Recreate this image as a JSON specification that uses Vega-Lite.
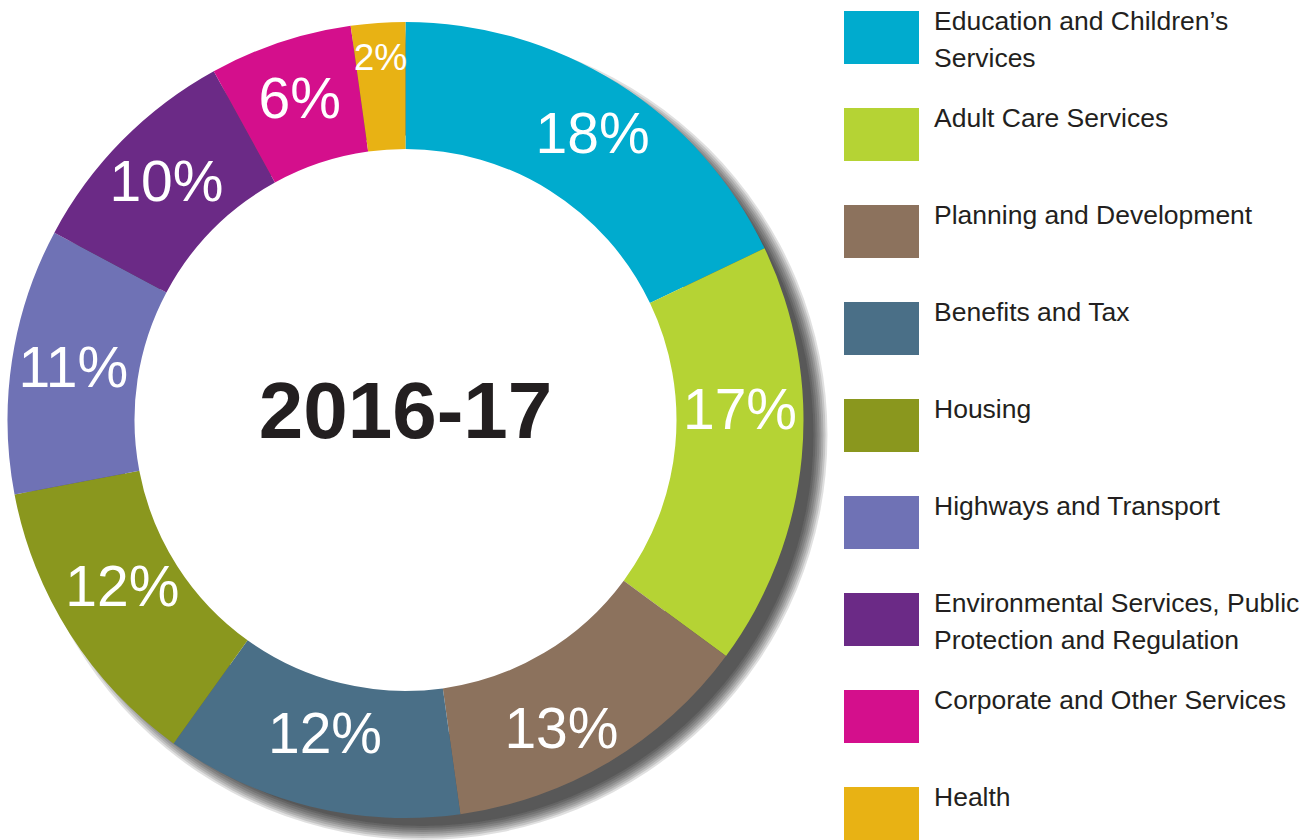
{
  "$schema": "https://vega.github.io/schema/vega-lite/v6.json",
  "width": 811,
  "height": 840,
  "padding": 0,
  "background": "white",
  "config": {"view": {"stroke": null}, "font": "Liberation Sans"},
  "layer": [
    {"data": {"values": [{"s": 1}]}, "mark": {"type": "arc", "theta": 0, "theta2": {"expr": "2*PI"}, "outerRadius": 391, "innerRadius": 300, "fill": "#000000", "fillOpacity": 0.12, "xOffset": 17, "yOffset": 15}, "encoding": {}},
    {"data": {"values": [{"s": 1}]}, "mark": {"type": "arc", "theta": 0, "theta2": {"expr": "2*PI"}, "outerRadius": 393, "innerRadius": 300, "fill": "#000000", "fillOpacity": 0.12, "xOffset": 17, "yOffset": 15}, "encoding": {}},
    {"data": {"values": [{"s": 1}]}, "mark": {"type": "arc", "theta": 0, "theta2": {"expr": "2*PI"}, "outerRadius": 395, "innerRadius": 300, "fill": "#000000", "fillOpacity": 0.12, "xOffset": 17, "yOffset": 15}, "encoding": {}},
    {"data": {"values": [{"s": 1}]}, "mark": {"type": "arc", "theta": 0, "theta2": {"expr": "2*PI"}, "outerRadius": 397, "innerRadius": 300, "fill": "#000000", "fillOpacity": 0.12, "xOffset": 17, "yOffset": 15}, "encoding": {}},
    {"data": {"values": [{"s": 1}]}, "mark": {"type": "arc", "theta": 0, "theta2": {"expr": "2*PI"}, "outerRadius": 399, "innerRadius": 300, "fill": "#000000", "fillOpacity": 0.12, "xOffset": 17, "yOffset": 15}, "encoding": {}},
    {"data": {"values": [{"s": 1}]}, "mark": {"type": "arc", "theta": 0, "theta2": {"expr": "2*PI"}, "outerRadius": 401, "innerRadius": 300, "fill": "#000000", "fillOpacity": 0.12, "xOffset": 17, "yOffset": 15}, "encoding": {}},
    {"data": {"values": [{"s": 1}]}, "mark": {"type": "arc", "theta": 0, "theta2": {"expr": "2*PI"}, "outerRadius": 403, "innerRadius": 300, "fill": "#000000", "fillOpacity": 0.12, "xOffset": 17, "yOffset": 15}, "encoding": {}},
    {"data": {"values": [{"s": 1}]}, "mark": {"type": "arc", "theta": 0, "theta2": {"expr": "2*PI"}, "outerRadius": 405, "innerRadius": 300, "fill": "#000000", "fillOpacity": 0.12, "xOffset": 17, "yOffset": 15}, "encoding": {}},
    {
      "data": {
        "values": [
          {"category": "Education and Children’s Services", "value": 17.9, "label": "18%", "order": 1},
          {"category": "Adult Care Services", "value": 17.2, "label": "17%", "order": 2},
          {"category": "Planning and Development", "value": 12.7, "label": "13%", "order": 3},
          {"category": "Benefits and Tax", "value": 12.1, "label": "12%", "order": 4},
          {"category": "Housing", "value": 12.1, "label": "12%", "order": 5},
          {"category": "Highways and Transport", "value": 10.8, "label": "11%", "order": 6},
          {"category": "Environmental Services, Public Protection and Regulation", "value": 9.2, "label": "10%", "order": 7},
          {"category": "Corporate and Other Services", "value": 5.8, "label": "6%", "order": 8},
          {"category": "Health", "value": 2.2, "label": "2%", "order": 9}
        ]
      },
      "layer": [
        {
          "mark": {"type": "arc", "outerRadius": 398, "innerRadius": 271},
          "encoding": {
            "theta": {"field": "value", "type": "quantitative", "stack": true},
            "order": {"field": "order", "type": "quantitative"},
            "color": {
              "field": "category",
              "type": "nominal",
              "scale": {
                "domain": ["Education and Children’s Services", "Adult Care Services", "Planning and Development", "Benefits and Tax", "Housing", "Highways and Transport", "Environmental Services, Public Protection and Regulation", "Corporate and Other Services", "Health"],
                "range": ["#00ABCE", "#B5D334", "#8C725D", "#4A6F87", "#8A971E", "#6F72B5", "#6B2A86", "#D40F8C", "#E8B214"]
              },
              "legend": {
                "title": null,
                "orient": "right",
                "offset": 33,
                "padding": 0,
                "symbolType": "M-1,-0.7067L1,-0.7067L1,0.7067L-1,0.7067Z",
                "symbolSize": 5625,
                "symbolStrokeWidth": 0,
                "symbolOpacity": 1,
                "labelFont": "Liberation Sans",
                "labelFontSize": 26.5,
                "labelColor": "#231F20",
                "labelOffset": 15,
                "labelLimit": 500,
                "rowPadding": 25,
                "labelBaseline": "alphabetic",
                "labelExpr": "datum.label == 'Education and Children’s Services' ? ['Education and Children’s', 'Services'] : datum.label == 'Environmental Services, Public Protection and Regulation' ? ['Environmental Services, Public', 'Protection and Regulation'] : [datum.label, '']",
                "encode": {"labels": {"update": {"lineHeight": {"value": 37}, "dy": {"value": -8}}}}
              }
            }
          }
        },
        {
          "mark": {
            "type": "text",
            "radius": {"expr": "datum.value < 3 ? 362 : 336"},
            "dx": {"expr": "datum.order == 3 ? -16 : datum.order == 1 ? 8 : 0"},
            "dy": {"expr": "datum.order == 2 ? -40 : datum.order == 3 ? 22 : datum.order == 4 ? -10 : datum.order == 5 ? -12 : 0"},
            "color": "white",
            "font": "Liberation Sans",
            "baseline": "middle",
            "align": "center"
          },
          "encoding": {
            "theta": {"field": "value", "type": "quantitative", "stack": true},
            "order": {"field": "order", "type": "quantitative"},
            "text": {"field": "label", "type": "nominal"},
            "size": {"condition": {"test": "datum.value < 3", "value": 37}, "value": 57}
          }
        }
      ]
    },
    {
      "data": {"values": [{"t": "2016-17"}]},
      "mark": {"type": "text", "font": "Liberation Sans", "fontSize": 80, "fontWeight": "bold", "color": "#231F20", "baseline": "middle", "align": "center", "dy": -6},
      "encoding": {"text": {"field": "t", "type": "nominal"}}
    }
  ]
}
